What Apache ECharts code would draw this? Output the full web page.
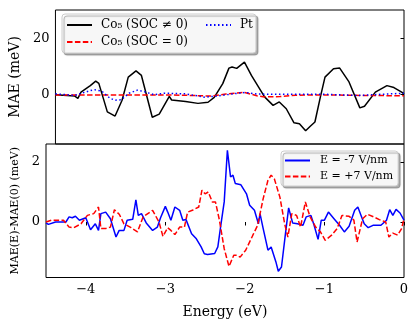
<!DOCTYPE html>
<html>
<head>
<meta charset="utf-8">
<title>MAE</title>
<script src="https://cdn.jsdelivr.net/npm/echarts@6/dist/echarts.min.js"></script>
<style>
  html, body { margin: 0; padding: 0; background: #fff; }
  #main { width: 415px; height: 326px; }
</style>
</head>
<body>
<div id="main"></div>
<script type="text/javascript">
// top panel: MAE (meV)
var socX = [-4.5, -4.25, -4.21, -4.17, -4.05, -3.98, -3.94, -3.88, -3.83, -3.73, -3.64, -3.56, -3.46, -3.39, -3.25, -3.16, -3.03, -3.0, -2.82, -2.66, -2.53, -2.45, -2.34, -2.26, -2.22, -2.16, -2.06, -1.97, -1.8, -1.69, -1.61, -1.52, -1.42, -1.35, -1.27, -1.21, -1.15, -1.08, -1.02, -0.91, -0.83, -0.71, -0.57, -0.51, -0.37, -0.22, -0.13, -0.03, 0];
var socY = [0, -0.5, -1.3, 0.9, 3.2, 4.8, 4.0, -1.5, -6.1, -7.6, -2.0, 6.2, 8.4, 6.8, -8.0, -6.9, -0.6, -1.9, -2.4, -3.1, -2.7, -1.0, 3.9, 9.4, 9.8, 9.3, 11.5, 6.8, -0.8, -3.8, -2.6, -5.0, -10.0, -10.3, -12.8, -11.2, -9.7, -0.9, 6.2, 9.2, 9.4, 4.5, -4.7, -4.1, 0.9, 3.2, 2.5, 0.9, 0.3];
var noSocX = [-4.5, -3.0, -2.5, -2.3, -2.06, -1.9, -1.8, -1.6, -1.4, -1.0, -0.5, 0];
var noSocY = [-0.1, -0.1, -0.5, 0.2, 0.8, -0.4, -0.8, -0.7, -0.2, -0.1, -0.3, -0.4];
var ptX = [-4.5, -4.25, -4.15, -4.0, -3.9, -3.8, -3.73, -3.65, -3.55, -3.44, -3.35, -3.23, -3.09, -2.82, -2.58, -2.45, -2.2, -2.05, -1.9, -1.5, -1.0, -0.6, -0.3, 0];
var ptY = [0.3, -0.3, 0.6, 1.8, 1.2, -1.2, -2.0, -1.8, 0.5, 1.6, 1.0, 0.0, 0.5, 0.3, -0.9, -0.6, 0.3, 0.8, 0.2, 0.1, 0.1, -0.3, 0.1, 0.5];

// bottom panel: MAE(E)-MAE(0) (meV)
var negX = [-4.5, -4.47, -4.38, -4.25, -4.21, -4.17, -4.13, -4.08, -4.0, -3.94, -3.88, -3.84, -3.81, -3.75, -3.69, -3.62, -3.58, -3.52, -3.48, -3.41, -3.37, -3.34, -3.3, -3.24, -3.16, -3.1, -3.06, -3.0, -2.97, -2.93, -2.88, -2.82, -2.78, -2.74, -2.67, -2.61, -2.55, -2.51, -2.47, -2.38, -2.34, -2.3, -2.26, -2.22, -2.18, -2.15, -2.12, -2.05, -1.98, -1.94, -1.88, -1.83, -1.81, -1.77, -1.71, -1.67, -1.61, -1.58, -1.54, -1.49, -1.45, -1.4, -1.34, -1.27, -1.23, -1.17, -1.13, -1.08, -1.04, -1.0, -0.95, -0.88, -0.81, -0.75, -0.69, -0.62, -0.58, -0.54, -0.5, -0.45, -0.39, -0.29, -0.22, -0.18, -0.14, -0.1, -0.05, 0];
var negY = [-0.03, -0.08, 0, 0, 0.17, 0.14, 0.19, 0.06, 0.14, -0.26, -0.06, -0.28, 0.28, 0.33, 0.11, -0.5, -0.28, -0.28, 0.06, 0.09, 0.74, 0.22, 0.28, -0.03, -0.28, -0.17, 0.14, 0.52, 0.33, 0.06, 0.5, 0.39, 0.06, 0.08, -0.39, -0.56, -0.83, -1.06, -1.08, -1.05, -0.83, -0.06, 0.67, 2.39, 1.5, 1.56, 1.28, 1.24, 0.94, 0.56, 0.39, -0.06, 0.28, -0.22, -0.94, -0.83, -1.33, -1.64, -1.5, -0.39, 0.47, -0.03, -0.06, -0.11, 0.17, 0.22, -0.11, -0.58, 0.06, 0.06, 0.33, 0.11, -0.11, -0.33, -0.14, 0.39, 0.5, 0.22, -0.06, -0.19, -0.11, -0.11, 0.06, 0.41, 0.22, 0.42, 0.3, 0.06];
var posX = [-4.5, -4.43, -4.28, -4.21, -4.15, -4.06, -3.98, -3.9, -3.84, -3.81, -3.75, -3.69, -3.64, -3.58, -3.52, -3.43, -3.35, -3.28, -3.16, -3.08, -3.03, -2.97, -2.93, -2.88, -2.82, -2.76, -2.72, -2.66, -2.58, -2.54, -2.5, -2.46, -2.41, -2.37, -2.32, -2.26, -2.2, -2.14, -2.1, -2.06, -1.99, -1.9, -1.84, -1.77, -1.71, -1.67, -1.63, -1.56, -1.5, -1.46, -1.41, -1.35, -1.3, -1.24, -1.18, -1.11, -1.05, -0.99, -0.91, -0.84, -0.78, -0.69, -0.63, -0.59, -0.52, -0.46, -0.38, -0.31, -0.23, -0.19, -0.14, -0.08, -0.03, 0];
var posY = [0, 0.06, 0.06, -0.17, -0.19, -0.06, 0.22, 0.28, 0.5, -0.22, -0.22, -0.17, 0.41, 0.26, -0.06, -0.19, -0.33, 0.17, 0.39, 0, -0.48, -0.19, -0.28, -0.42, -0.17, -0.17, 0.33, 0.39, 0.5, 1.06, 0.94, 1.0, 0.67, 0.67, 0.06, -0.89, -1.48, -1.11, -1.11, -1.17, -0.94, -0.44, -0.11, 0.78, 1.39, 1.56, 1.44, 0.83, -0.06, -0.5, 0.28, 0.22, -0.17, 0.67, 0.17, -0.17, -0.33, -0.61, -0.44, -0.22, 0.22, 0.19, 0.06, -0.67, 0.11, 0.26, 0.17, 0.08, 0, -0.5, -0.37, -0.44, -0.22, 0.11];

var xTicks = [-4, -3, -2, -1, 0];
var topTicks = [0, 20];
var bottomTicks = [0, 2];

var FONT = 'DejaVu Serif';

function pairs(xs, ys) {
    return xs.map(function (x, i) { return [x, ys[i]]; });
}
function minusFmt(v) {
    return v < 0 ? '\u2212' + Math.abs(v) : String(v);
}

var myChart = echarts.init(document.getElementById('main'), null, { renderer: 'canvas' });

var frame = { show: true, borderColor: '#000', borderWidth: 1, backgroundColor: 'transparent' };

function xAxisOf(grid, labels) {
    return {
        type: 'value', gridIndex: grid, min: -4.5, max: 0,
        axisLine: { show: false },
        axisTick: { show: labels, customValues: xTicks, length: 3.5, lineStyle: { color: '#000' } },
        axisLabel: { show: labels, customValues: xTicks, margin: 6, color: '#000', fontFamily: FONT, fontSize: 13, formatter: minusFmt },
        splitLine: { show: false },
        name: labels ? 'Energy (eV)' : '', nameLocation: 'middle', nameGap: 28,
        nameTextStyle: { color: '#000', fontFamily: FONT, fontSize: 14 }
    };
}
function yAxisOf(grid, min, max, ticks, name, size, gap) {
    return {
        type: 'value', gridIndex: grid, min: min, max: max,
        axisLine: { show: false },
        axisTick: { show: true, customValues: ticks, length: 3.5, lineStyle: { color: '#000' } },
        axisLabel: { customValues: ticks, margin: 6, color: '#000', fontFamily: FONT, fontSize: 13, formatter: minusFmt },
        splitLine: { show: false },
        name: name, nameLocation: 'middle', nameGap: gap,
        nameTextStyle: { color: '#000', fontFamily: FONT, fontSize: size }
    };
}
function lineOf(name, xi, data, color, type) {
    return {
        name: name, type: 'line', xAxisIndex: xi, yAxisIndex: xi, data: data,
        showSymbol: false, symbol: 'none', clip: true,
        lineStyle: { color: color, width: 1.5, type: type },
        itemStyle: { color: color }
    };
}

var legendBox = {
    backgroundColor: 'rgba(255,255,255,0.9)', borderColor: '#cccccc', borderWidth: 1, borderRadius: 3,
    shadowColor: 'rgba(0,0,0,0.35)', shadowBlur: 1, shadowOffsetX: 2, shadowOffsetY: 2
};
var legendText = { color: '#000', fontFamily: FONT, fontSize: 12, padding: [0, 0, 0, 4] };

var option = {
    animation: false,
    grid: [
        Object.assign({ left: 46, right: 11, top: 10, height: 134 }, frame),
        Object.assign({ left: 46, right: 11, top: 144, bottom: 48.5 }, frame)
    ],
    xAxis: [xAxisOf(0, false), xAxisOf(1, true)],
    yAxis: [
        yAxisOf(0, -17.5, 30, topTicks, 'MAE (meV)', 14, 14),
        yAxisOf(1, -1.85, 2.6, bottomTicks, 'MAE(E)-MAE(0) (meV)', 11, 16)
    ],
    legend: [
        Object.assign({
            data: ['Co\u2085 (SOC \u2260 0)', 'Co\u2085 (SOC = 0)'],
            orient: 'vertical', left: 62, top: 14, padding: [5, 68, 5, 4],
            itemGap: 5, itemWidth: 25, itemHeight: 13,
            itemStyle: { opacity: 0 },
            textStyle: legendText
        }, legendBox),
        {
            data: ['Pt'], orient: 'vertical', left: 205, top: 19, padding: 0, z: 10,
            itemWidth: 25, itemHeight: 13,
            itemStyle: { opacity: 0 },
            textStyle: legendText
        },
        Object.assign({
            data: ['E = -7 V/nm', 'E = +7 V/nm'],
            orient: 'vertical', left: 281, top: 151, padding: [4, 5, 4, 3],
            itemGap: 5, itemWidth: 25, itemHeight: 13,
            itemStyle: { opacity: 0 },
            textStyle: { color: '#000', fontFamily: FONT, fontSize: 11, padding: [0, 0, 0, 5] }
        }, legendBox)
    ],
    series: [
        lineOf('Co\u2085 (SOC \u2260 0)', 0, pairs(socX, socY), '#000000', 'solid'),
        lineOf('Co\u2085 (SOC = 0)', 0, pairs(noSocX, noSocY), '#ff0000', [5.5, 2.4]),
        lineOf('Pt', 0, pairs(ptX, ptY), '#0000ff', [1.5, 2.5]),
        lineOf('E = -7 V/nm', 1, pairs(negX, negY), '#0000ff', 'solid'),
        lineOf('E = +7 V/nm', 1, pairs(posX, posY), '#ff0000', [5.5, 2.4])
    ]
};

myChart.setOption(option);
</script>
</body>
</html>
